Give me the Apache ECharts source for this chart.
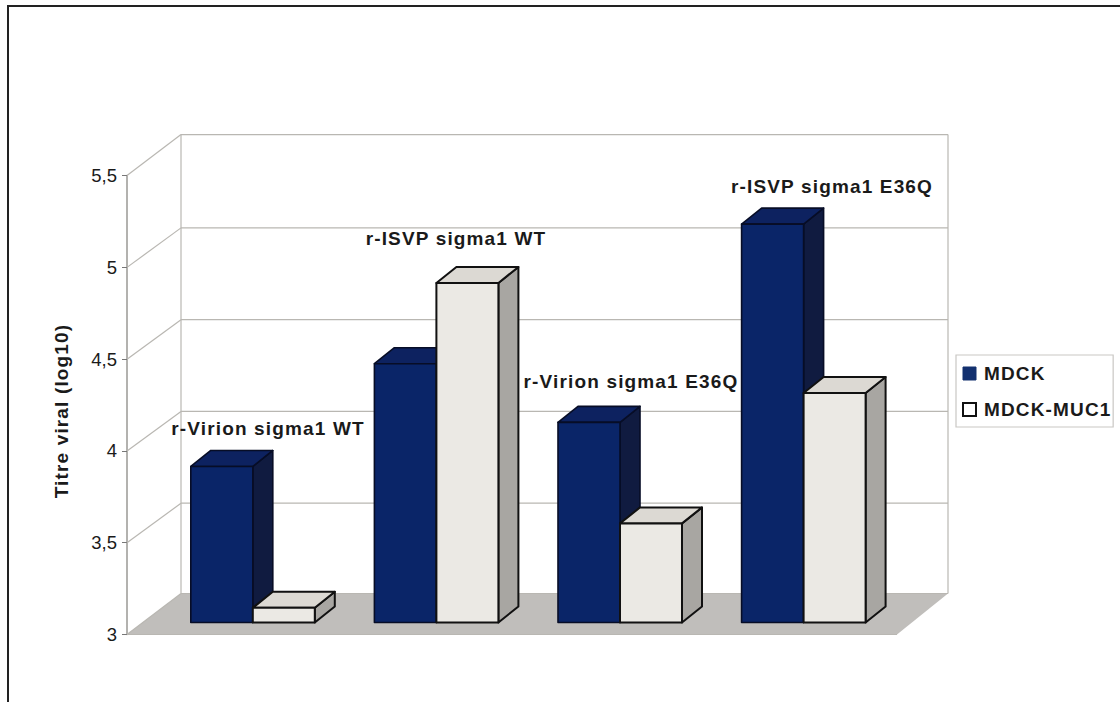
<!DOCTYPE html>
<html>
<head>
<meta charset="utf-8">
<style>
  html, body { margin: 0; background: #fff; }
  #chart { width: 1120px; height: 702px; }
  /* Bold chart text is set slightly tracked out */
  #chart svg text[style*="bold"] { letter-spacing: 1.15px; }
</style>
<script src="https://cdn.jsdelivr.net/npm/echarts@6/dist/echarts.min.js"></script>
</head>
<body>
<div id="chart"></div>
<script>
// Viral titres per virus and cell line
const categories = ['r-Virion sigma1 WT', 'r-ISVP sigma1 WT', 'r-Virion sigma1 E36Q', 'r-ISVP sigma1 E36Q'];
const mdck = [3.85, 4.41, 4.09, 5.17];
const mdckMuc1 = [3.08, 4.85, 3.54, 4.25];
const gridTicks = [3, 3.5, 4, 4.5, 5, 5.5];
const tickLabels = ['3', '3,5', '4', '4,5', '5', '5,5'];

// Oblique projection used to fake the 3D box
const FONT = '"Liberation Sans", Arial, sans-serif';
const BOX = { left: 127, right: 897, backRight: 948, dx: 54, dy: 41, innerDy: 39.5 };
const BAR = { width: 62, dx: 20, dy: 16, lift: 12 };
const WALL_LINE = '#b9b7b2';

function poly(points, fill, stroke, lineWidth) {
  return { type: 'polygon', shape: { points },
    style: { fill, stroke: stroke || null, lineWidth: lineWidth || 0, lineJoin: 'round' } };
}
function line(x1, y1, x2, y2) {
  return { type: 'line', shape: { x1, y1, x2, y2 }, style: { stroke: WALL_LINE, lineWidth: 1.2 } };
}

function renderGridLine(params, api) {
  const v = api.value(0);
  const y = api.coord([0, v])[1];
  const isEnd = v === gridTicks[0] || v === gridTicks[gridTicks.length - 1];
  const bx = BOX.left + BOX.dx, by = y - (isEnd ? BOX.dy : BOX.innerDy);
  return { type: 'group', children: [line(BOX.left, y, bx, by), line(bx, by, BOX.backRight, by)] };
}

function renderRoom(params, api) {
  const y0 = api.coord([0, gridTicks[0]])[1];
  const y1 = api.coord([0, gridTicks[gridTicks.length - 1]])[1];
  const bx = BOX.left + BOX.dx;
  return { type: 'group', children: [
    poly([[BOX.left, y0], [bx, y0 - BOX.dy], [BOX.backRight, y0 - BOX.dy], [BOX.right, y0]], '#c0bebb'),
    line(bx, y1 - BOX.dy, bx, y0 - BOX.dy),
    line(BOX.backRight, y1 - BOX.dy, BOX.backRight, y0 - BOX.dy),
    line(BOX.left, y0, BOX.right, y0)
  ] };
}

function barRenderer(side, colors) {
  return function (params, api) {
    const c = api.coord([api.value(0), api.value(1)]);
    const base = api.coord([api.value(0), gridTicks[0]])[1] - BAR.lift;
    const top = c[1] - BAR.lift;
    const x0 = side < 0 ? c[0] - BAR.width : c[0];
    const x1 = x0 + BAR.width;
    const dx = BAR.dx, dy = BAR.dy;
    return { type: 'group', children: [
      poly([[x1, base], [x1 + dx, base - dy], [x1 + dx, top - dy], [x1, top]], colors.side, colors.edge, colors.w),
      poly([[x0, top], [x0 + dx, top - dy], [x1 + dx, top - dy], [x1, top]], colors.top, colors.edge, colors.w),
      poly([[x0, base], [x1, base], [x1, top], [x0, top]], colors.front, colors.edge, colors.w)
    ] };
  };
}

const chart = echarts.init(document.getElementById('chart'), null, { renderer: 'svg' });

const barLabels = [
  { x: 268, y: 428 }, { x: 456, y: 238 }, { x: 631, y: 381 }, { x: 832, y: 186 }
];

chart.setOption({
  animation: false,
  backgroundColor: '#fff',
  grid: { left: 161, right: 224.6, top: 175.6, bottom: 67.5 },
  xAxis: { type: 'category', data: categories, axisLine: { show: false },
    axisTick: { show: false }, axisLabel: { show: false }, splitLine: { show: false } },
  yAxis: {
    type: 'value', min: 3, max: 5.5, interval: 0.5, offset: 34,
    name: 'Titre viral (log10)', nameLocation: 'middle', nameGap: 56, nameRotate: 90,
    nameTextStyle: { fontFamily: FONT, fontWeight: 'bold', fontSize: 19, color: '#1a1a1a', padding: [0, 12, 0, 0] },
    axisLine: { show: true, lineStyle: { color: '#9a9895', width: 1.5 } },
    axisTick: { show: true, length: 5, lineStyle: { color: '#777' } },
    axisLabel: { fontFamily: FONT, fontSize: 18.5, color: '#1a1a1a', margin: 10,
      formatter: v => tickLabels[gridTicks.indexOf(v)] },
    splitLine: { show: false }
  },
  legend: {
    left: 956, top: 355, orient: 'vertical', padding: [9, 12, 8, 6], itemGap: 17,
    itemWidth: 13, itemHeight: 13, selectedMode: false,
    backgroundColor: '#fff', borderColor: '#c9c7c4', borderWidth: 1.2,
    textStyle: { fontFamily: FONT, fontWeight: 'bold', fontSize: 19, color: '#1a1a1a', padding: [0, 0, 0, 3] },
    data: [
      { name: 'MDCK', icon: 'rect', itemStyle: { color: '#12306f', borderColor: '#12306f', borderWidth: 1 } },
      { name: 'MDCK-MUC1', icon: 'rect', itemStyle: { color: '#fff', borderColor: '#111', borderWidth: 2 } }
    ]
  },
  series: [
    { type: 'custom', name: 'room', silent: true, clip: false, z: 1,
      renderItem: renderRoom, data: [[gridTicks[0]]], encode: { y: 0 } },
    { type: 'custom', name: 'gridlines', silent: true, clip: false, z: 1,
      renderItem: renderGridLine, data: gridTicks.map(v => [v]), encode: { y: 0 } },
    { type: 'custom', name: 'MDCK', clip: false, z: 2,
      itemStyle: { color: '#12306f' },
      renderItem: barRenderer(-1, { front: '#0a2568', top: '#0d2260', side: '#101b40', edge: '#070d26', w: 1.6 }),
      data: mdck.map((v, i) => [i, v]), encode: { x: 0, y: 1 } },
    { type: 'custom', name: 'MDCK-MUC1', clip: false, z: 3,
      itemStyle: { color: '#fff' },
      renderItem: barRenderer(1, { front: '#ebe9e4', top: '#dcd9d3', side: '#a8a6a2', edge: '#111', w: 2 }),
      data: mdckMuc1.map((v, i) => [i, v]), encode: { x: 0, y: 1 } }
  ],
  graphic: [
    { type: 'polyline', z: 10, silent: true,
      shape: { points: [[8, 702], [8, 6], [1120, 6]] },
      style: { fill: null, stroke: '#222', lineWidth: 2 } }
  ].concat(categories.map((name, i) => ({
    type: 'text', z: 10, silent: true, x: barLabels[i].x, y: barLabels[i].y,
    style: { text: name, font: 'bold 19px ' + FONT, fill: '#1a1a1a', align: 'center', verticalAlign: 'middle' }
  })))
});
</script>
</body>
</html>
